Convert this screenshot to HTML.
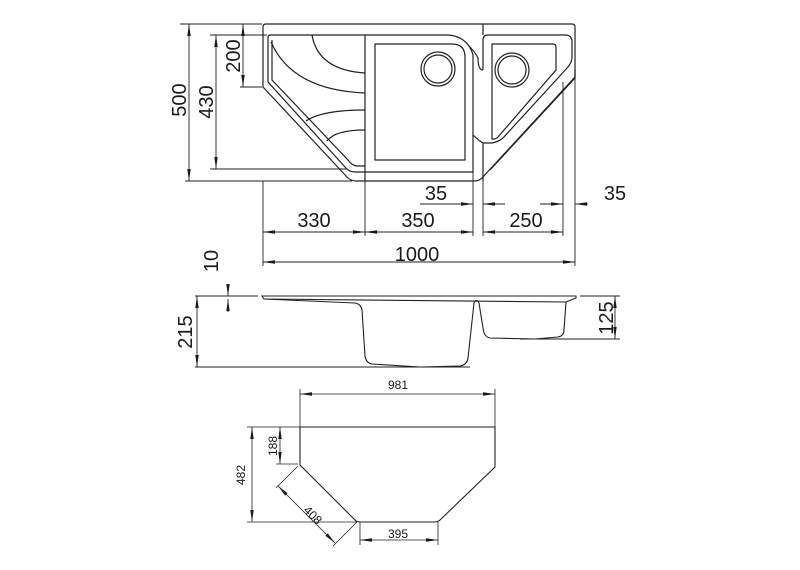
<!DOCTYPE html>
<html><head><meta charset="utf-8"><style>
html,body{margin:0;padding:0;background:#fff}
svg{display:block}
text{font-family:"Liberation Sans",Arial,sans-serif;fill:#1a1a1a}
</style></head><body>
<svg width="800" height="570" viewBox="0 0 800 570" xmlns="http://www.w3.org/2000/svg">
<defs>
<marker id="a" viewBox="0 0 12 4" refX="12" refY="2" markerWidth="12" markerHeight="4" orient="auto-start-reverse" markerUnits="userSpaceOnUse">
<path d="M0,0.3 L12,2 L0,3.7z" fill="#1a1a1a"/></marker>
</defs>
<g fill="none" stroke="#222" stroke-width="1.2">
<!-- TOP VIEW -->
<path d="M263,27 Q263,24 266,24 L572,24 Q575,24 575,27 L575,77 L482,178 Q479,181 474,181 L356,181 Q351,181 347,177 L263,87 Z"/>
<path d="M268,37 Q268,35 271,35 L448,35 Q462,36 469,46 Q472,51 473,55 L473,172 L355,172 Q349,172 345,167 L268,82 Z"/>
<path d="M272,40 L272,80 L348,160 Q352,166 358,166 L365,166"/>
<line x1="365" y1="35" x2="365" y2="181"/>
<path d="M312,35 Q318,70 365,73"/>
<path d="M271,42 Q292,90 365,93"/>
<path d="M306,121 Q322,110 365,110"/>
<path d="M327,141 Q335,130 365,130"/>
<path d="M375,44 L452,44 Q465,44 465,57 L465,160 L375,160 Z"/>
<circle cx="438" cy="69" r="17"/><circle cx="438" cy="69" r="14"/>
<path d="M469,46 Q475,52 478,58 Q478,70 483,70"/>
<path d="M473,135 Q478,140 483,143 L492,143 Q498,142 503,138 L568,67 Q572,62 572,57 L572,42 Q572,35 565,35 L488,35 Q483,35 483,40 L483,70"/>
<line x1="483" y1="24" x2="483" y2="35"/>
<line x1="483" y1="143" x2="483" y2="181"/>
<path d="M492,44 L553,44 Q556,44 556,47 L556,70 L498,137 Q496,139 494,139 L492,139 Z"/>
<circle cx="512" cy="70" r="17"/><circle cx="512" cy="70" r="14"/>
<path d="M575,70 L575,78 L490,170" />
</g>
<g stroke="#222" stroke-width="0.9" fill="none">
<line x1="180" y1="24" x2="262" y2="24"/>
<line x1="210" y1="35" x2="267" y2="35"/>
<line x1="240" y1="87" x2="262" y2="87"/>
<line x1="210" y1="169" x2="346" y2="169"/>
<line x1="185" y1="181" x2="352" y2="181"/>
<line x1="263" y1="181" x2="263" y2="266"/>
<line x1="365" y1="181" x2="365" y2="236"/>
<line x1="473" y1="172" x2="473" y2="236"/>
<line x1="483" y1="181" x2="483" y2="236"/>
<line x1="563" y1="82" x2="563" y2="236"/>
<line x1="575" y1="78" x2="575" y2="266"/>
<line x1="189" y1="24" x2="189" y2="181" marker-start="url(#a)" marker-end="url(#a)"/>
<line x1="216" y1="35" x2="216" y2="169" marker-start="url(#a)" marker-end="url(#a)"/>
<line x1="243" y1="24" x2="243" y2="87" marker-start="url(#a)" marker-end="url(#a)"/>
<line x1="263" y1="232" x2="365" y2="232" marker-start="url(#a)" marker-end="url(#a)"/>
<line x1="365" y1="232" x2="473" y2="232" marker-start="url(#a)" marker-end="url(#a)"/>
<line x1="483" y1="232" x2="563" y2="232" marker-start="url(#a)" marker-end="url(#a)"/>
<line x1="263" y1="262" x2="575" y2="262" marker-start="url(#a)" marker-end="url(#a)"/>
<line x1="420" y1="204" x2="473" y2="204" marker-end="url(#a)"/>
<line x1="483" y1="204" x2="505" y2="204" marker-start="url(#a)"/>
<line x1="540" y1="204" x2="563" y2="204" marker-end="url(#a)"/>
<line x1="575" y1="204" x2="588" y2="204" marker-start="url(#a)"/>
</g>
<g font-size="20" text-anchor="middle">
<text transform="translate(186,100) rotate(-90)">500</text>
<text transform="translate(213,102) rotate(-90)">430</text>
<text transform="translate(240,56) rotate(-90)">200</text>
<text x="314" y="227">330</text>
<text x="418" y="227">350</text>
<text x="526" y="227">250</text>
<text x="417" y="261">1000</text>
<text x="436" y="200">35</text>
<text x="615" y="200">35</text>
<text transform="translate(218,261) rotate(-90)">10</text>
<text transform="translate(192,332) rotate(-90)">215</text>
<text transform="translate(613,318) rotate(-90)">125</text>
</g>
<!-- SIDE VIEW -->
<g fill="none" stroke="#222" stroke-width="1.1">
<path d="M262,296 L576,296 L576,298 L566,302 L264,299 Z"/>
<path d="M264,299 L355,303 Q361,304 362,310 L365,356 Q366,363 372,364 L420,367 L460,366 Q467,365 468,358 L474,303 Q476,298 479,303 L483,328 Q484,337 490,338 L535,339 L558,337 Q564,336 564,330 L566,302"/>
</g>
<g stroke="#222" stroke-width="0.9" fill="none">
<line x1="195" y1="296" x2="258" y2="296"/>
<line x1="195" y1="367" x2="470" y2="367"/>
<line x1="580" y1="296" x2="620" y2="296"/>
<line x1="520" y1="339" x2="620" y2="339"/>
<line x1="197" y1="296" x2="197" y2="367" marker-start="url(#a)" marker-end="url(#a)"/>
<line x1="228" y1="284" x2="228" y2="296" marker-end="url(#a)"/>
<line x1="228" y1="312" x2="228" y2="299" marker-end="url(#a)"/>
<line x1="615" y1="296" x2="615" y2="339" marker-start="url(#a)" marker-end="url(#a)"/>
</g>
<!-- BOTTOM VIEW -->
<g fill="none" stroke="#222" stroke-width="1.1">
<path d="M300,427 L495,427 L495,467 L440,520 Q438,522 435,522 L360,522 Q357,522 355,520 L300,465 Z"/>
</g>
<g stroke="#222" stroke-width="0.8" fill="none">
<line x1="300" y1="389" x2="300" y2="427"/>
<line x1="495" y1="389" x2="495" y2="427"/>
<line x1="300" y1="394" x2="495" y2="394" marker-start="url(#a)" marker-end="url(#a)"/>
<line x1="247" y1="427" x2="300" y2="427"/>
<line x1="247" y1="522" x2="357" y2="522"/>
<line x1="276" y1="464" x2="298" y2="464"/>
<line x1="252" y1="427" x2="252" y2="522" marker-start="url(#a)" marker-end="url(#a)"/>
<line x1="280" y1="427" x2="280" y2="464" marker-start="url(#a)" marker-end="url(#a)"/>
<line x1="278" y1="486" x2="335" y2="543" marker-start="url(#a)" marker-end="url(#a)"/>
<line x1="298" y1="466" x2="276" y2="488"/>
<line x1="357" y1="522" x2="333" y2="546"/>
<line x1="360" y1="522" x2="360" y2="545"/>
<line x1="438" y1="522" x2="438" y2="545"/>
<line x1="360" y1="540" x2="438" y2="540" marker-start="url(#a)" marker-end="url(#a)"/>
</g>
<g font-size="12" text-anchor="middle">
<text x="398" y="389">981</text>
<text transform="translate(245,475) rotate(-90)">482</text>
<text transform="translate(277,446) rotate(-90)">188</text>
<text transform="translate(310,518) rotate(45)">408</text>
<text x="398" y="538">395</text>
</g>
</svg>
</body></html>
